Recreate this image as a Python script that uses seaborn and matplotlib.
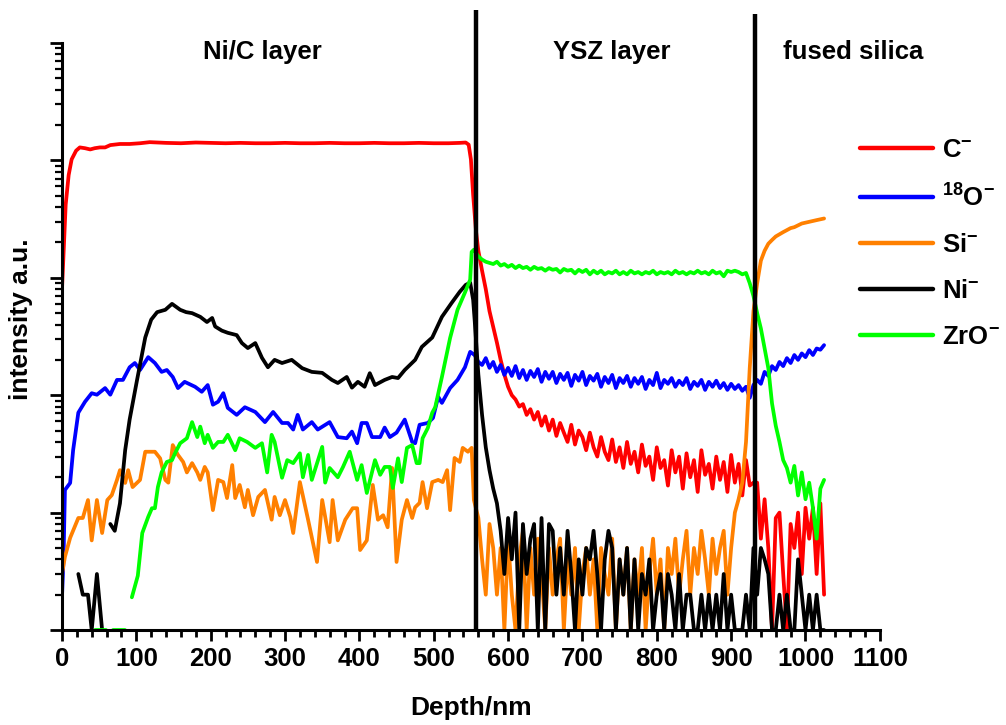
import numpy as np
import pandas as pd
import matplotlib
matplotlib.use("Agg")
import matplotlib.pyplot as plt
import matplotlib.transforms as mtransforms
import seaborn as sns
from matplotlib.ticker import MultipleLocator, LogLocator, NullFormatter

# ---------------- data ----------------
species = ["C$^{-}$", "$^{18}$O$^{-}$", "Si$^{-}$", "Ni$^{-}$", "ZrO$^{-}$"]
colors = ["#FF0000", "#0000FF", "#FF8000", "#000000", "#00FF00"]

# common sampling grid of the YSZ layer and fused silica part (nm)
depth_grid = np.arange(560, 1030, 5)

# --- C- ---
red_depth_nic = [0, 3, 5, 9, 13, 19, 24, 31, 38, 44, 51, 58, 65, 78, 91, 105, 118, 140, 160, 180,
                 200, 220, 240, 260, 280, 300, 320, 340, 360, 380, 400, 420, 440, 460, 480, 500, 520,
                 535, 543, 547, 550, 553, 557]
red_nic = [790, 2100, 4200, 7500, 10200, 12100, 12900, 12700, 12400, 12700,
           12900, 12900, 13500, 13800, 13800, 14000, 14300, 14100, 14000, 14200,
           14100, 14000, 14100, 14000, 14000, 14100, 14000, 14000, 14100, 14000,
           14000, 14100, 14000, 14000, 14100, 14000, 14000, 14100, 14200, 13600,
           10200, 5100, 2450]
red_grid = [1700, 1150, 800, 520, 380, 280, 200, 150, 118, 100,
            92, 80, 84, 68, 76, 62, 72, 55, 66, 50,
            62, 45, 58, 48, 40, 56, 38, 50, 44, 34,
            48, 36, 30, 44, 33, 28, 42, 27, 36, 24,
            40, 26, 33, 22, 38, 25, 30, 19, 36, 24,
            28, 17, 34, 22, 30, 16, 32, 20, 28, 15,
            34, 21, 26, 16, 30, 19, 27, 15, 31, 18,
            26, 14, 28, 17, 18, 18, 6, 13, 5, 1,
            9, 10, 3, 1, 8, 5, 10, 3, 11, 6,
            11, 3, 12, 2]

# --- 18O- ---
blue_depth_nic = [0, 2, 4, 11, 15, 22, 31, 40, 47, 58, 65, 74, 82, 91, 98, 105, 116, 125, 134, 141,
                  149, 156, 165, 179, 188, 196, 203, 210, 217, 223, 235, 246, 260, 273, 284, 296, 304,
                  311, 317, 324, 336, 344, 360, 371, 383, 390, 397, 403, 410, 417, 428, 434, 441, 450,
                  461, 471, 475, 481, 492, 499, 506, 511, 522, 532, 542, 549, 555]
blue_nic = [1.9, 3.9, 15.6, 17.9, 34, 71, 88, 104, 101, 115,
            101, 135, 135, 173, 188, 164, 211, 188, 158, 164,
            143, 115, 130, 118, 107, 122, 83, 88, 104, 78,
            68, 79, 72, 59, 72, 58, 58, 51, 68, 51,
            59, 51, 59, 44, 43, 49, 39, 58, 58, 44,
            44, 53, 44, 48, 62, 40, 39, 56, 58, 64,
            97, 86, 115, 135, 173, 234, 220]
blue_grid = [192, 181, 207, 171, 192, 158, 181, 149, 171, 146,
             177, 140, 164, 135, 161, 143, 167, 130, 158, 138,
             158, 127, 152, 135, 155, 120, 149, 133, 158, 122,
             146, 133, 152, 118, 143, 127, 149, 115, 140, 127,
             146, 118, 140, 125, 143, 113, 135, 122, 155, 115,
             135, 125, 140, 118, 133, 122, 140, 113, 130, 120,
             135, 111, 130, 118, 133, 115, 127, 111, 125, 113,
             122, 109, 118, 95, 122, 135, 125, 158, 146, 177,
             164, 192, 177, 207, 188, 220, 200, 227, 211, 242,
             220, 250, 244, 267]

# --- Si- ---
orange_depth_nic = [0, 4, 11, 22, 28, 35, 40, 47, 54, 61, 67, 74, 78, 85, 89, 95, 105, 112, 125, 132,
                    139, 143, 149, 156, 163, 168, 175, 182, 186, 192, 196, 203, 210, 217, 222, 229,
                    233, 239, 246, 250, 257, 264, 273, 282, 286, 293, 300, 307, 311, 320, 331, 343,
                    350, 360, 364, 371, 381, 391, 397, 401, 410, 418, 425, 432, 438, 444, 450, 457,
                    464, 471, 475, 481, 485, 491, 498, 506, 512, 518, 522, 528, 535, 539, 546, 551, 554]
orange_nic = [3, 4.2, 6.1, 9, 9, 12.8, 5.8, 12.8, 6.7, 12.8,
              14.1, 19, 23, 17.9, 23, 16.5, 19, 33, 33, 29,
              19, 18, 37.6, 31, 27, 22, 26.4, 22, 19, 24.5,
              22, 10.5, 19, 18.2, 13.3, 25.4, 13.3, 17.2, 11.1, 15.6,
              9.5, 13.6, 15.6, 8.7, 13.6, 9.5, 12.8, 9.2, 6.7, 18.2,
              8.7, 3.8, 12.8, 5.6, 12.8, 5.8, 8.7, 10.9, 10.9, 4.8,
              5.8, 17.2, 8.7, 9.5, 7.5, 24, 3.8, 8.7, 12.8, 9,
              11.1, 12.1, 18.2, 10.9, 18.2, 19, 18.2, 23, 10.5, 29.2,
              27, 35.6, 33, 35.6, 12.8]
orange_grid = [9, 4, 2, 8, 5, 2, 5, 1, 6, 2,
               1, 4, 7, 1, 5, 2, 6, 3, 1, 5,
               2, 4, 6, 1, 4, 2, 5, 1, 3, 5,
               2, 4, 1, 5, 3, 2, 6, 1, 4, 2,
               5, 1, 4, 2, 5, 1, 3, 6, 2, 4,
               1, 5, 3, 6, 2, 4, 7, 2, 5, 3,
               7, 4, 2, 6, 3, 5, 7, 2, 5, 10,
               13, 18, 40, 170, 520, 900, 1400, 1700, 1950, 2100,
               2250, 2350, 2450, 2550, 2650, 2700, 2800, 2900, 2950, 3000,
               3050, 3100, 3150, 3200]

# --- Ni- ---
black_depth_a = [22, 28, 35, 40, 47, 54]
black_a = [3, 2, 2, 1, 3, 1]
black_depth_nic = [65, 71, 78, 85, 91, 101, 112, 120, 128, 139, 148, 159, 167, 175, 186, 195, 202,
                   206, 215, 223, 235, 242, 250, 260, 269, 277, 286, 296, 309, 323, 336, 350, 363,
                   371, 383, 390, 398, 407, 414, 421, 434, 444, 452, 461, 475, 484, 498, 511, 524,
                   535, 543, 549, 553, 555]
black_nic = [8, 7, 12, 34, 62, 135, 310, 440, 510, 534,
             600, 534, 510, 500, 465, 420, 455, 385, 355, 340,
             325, 278, 252, 278, 208, 173, 200, 188, 200, 170,
             158, 155, 135, 127, 143, 116, 130, 118, 154, 122,
             135, 143, 140, 164, 200, 258, 310, 465, 610, 760,
             870, 910, 650, 440]
black_grid = [150, 68, 36, 23, 16, 12, 7, 3, 9, 4,
              10, 1, 8, 3, 6, 8, 1, 9, 1, 8,
              7, 2, 5, 2, 7, 3, 1, 4, 2, 5,
              4, 7, 3, 1, 4, 7, 5, 1, 4, 2,
              5, 1, 4, 1, 3, 2, 4, 1, 2, 3,
              1, 3, 2, 1, 3, 1, 2, 2, 1, 1,
              2, 1, 2, 1, 2, 1, 3, 1, 2, 1,
              1, 1, 2, 1, 5, 2, 5, 4, 3, 1,
              1, 2, 1, 2, 1, 1, 4, 2, 1, 2,
              1, 2, 1, 1]

# --- ZrO- ---
green_depth_a = [44, 59]
green_a = [1, 1]
green_depth_b = [69, 85]
green_b = [1, 1]
green_depth_nic = [94, 102, 108, 116, 121, 125, 129, 134, 141, 148, 152, 159, 168, 175, 182, 186,
                   192, 196, 203, 210, 217, 223, 233, 239, 249, 260, 269, 276, 282, 286, 296, 303,
                   311, 320, 324, 331, 336, 350, 354, 360, 371, 378, 387, 397, 403, 410, 421, 428,
                   434, 441, 445, 452, 457, 464, 471, 477, 481, 485, 492, 498, 502, 511, 522, 532,
                   542, 549, 551, 554]
green_nic = [1.9, 2.9, 6.7, 9.2, 10.9, 10.9, 16.5, 22, 27, 28,
             32, 39, 43, 59, 44, 54, 39, 46, 35.6, 40,
             40, 46, 34, 43, 40, 35.6, 39, 22, 46, 40,
             19.8, 28, 26.4, 32, 20, 31, 19, 36.3, 18, 24,
             20, 24.5, 33, 19, 25.4, 14.7, 28, 21, 24.5, 24.5,
             16.2, 29, 18.2, 35.6, 37.6, 26.4, 26.4, 43, 52.5, 71,
             79, 143, 307, 534, 750, 963, 1660, 1735]
green_grid = [1520, 1430, 1370, 1340, 1310, 1370, 1270, 1310, 1240, 1290,
              1210, 1270, 1210, 1240, 1170, 1240, 1190, 1210, 1150, 1210,
              1170, 1190, 1110, 1190, 1150, 1170, 1090, 1170, 1120, 1170,
              1070, 1150, 1090, 1150, 1070, 1120, 1090, 1150, 1070, 1120,
              1070, 1150, 1090, 1120, 1070, 1120, 1090, 1150, 1070, 1120,
              1090, 1120, 1070, 1150, 1090, 1120, 1070, 1120, 1090, 1150,
              1090, 1120, 1070, 1150, 1090, 1120, 1030, 1150, 1120, 1150,
              1120, 1070, 1100, 900, 700, 500, 370, 250, 170, 85,
              55, 40, 28, 24, 18, 25, 14, 22, 13, 18,
              11, 6, 16, 19]

# layer interfaces and region names
interface_depth = [557, 932]
interface_top = [1.9e5, 1.75e5]
region_names = ["Ni/C layer", "YSZ layer", "fused silica"]
region_centers = [269, 740, 1064]

# ---------------- assemble long table ----------------
grid = list(depth_grid)
segments = [
    (species[0], "C", red_depth_nic + grid, red_nic + red_grid),
    (species[1], "O", blue_depth_nic + grid, blue_nic + blue_grid),
    (species[2], "Si", orange_depth_nic + grid, orange_nic + orange_grid),
    (species[3], "Ni-a", black_depth_a, black_a),
    (species[3], "Ni-b", black_depth_nic + grid, black_nic + black_grid),
    (species[4], "Zr-a", green_depth_a, green_a),
    (species[4], "Zr-b", green_depth_b, green_b),
    (species[4], "Zr-c", green_depth_nic + grid, green_nic + green_grid),
]
frames = []
for sp, seg, d, v in segments:
    frames.append(pd.DataFrame({"depth": d, "intensity": v, "species": sp, "segment": seg}))
df = pd.concat(frames, ignore_index=True)

# ---------------- style ----------------
sns.set_style("ticks")
plt.rcParams["font.family"] = ["Liberation Sans", "DejaVu Sans"]
plt.rcParams["font.weight"] = "bold"
plt.rcParams["mathtext.fontset"] = "custom"
plt.rcParams["mathtext.rm"] = "Liberation Sans:bold"
plt.rcParams["mathtext.bf"] = "Liberation Sans:bold"
plt.rcParams["mathtext.it"] = "Liberation Sans:bold"
plt.rcParams["mathtext.default"] = "bf"
for key in ("text.color", "axes.labelcolor", "xtick.color", "ytick.color", "axes.edgecolor"):
    plt.rcParams[key] = "black"

fig = plt.figure(figsize=(10.06, 7.25), dpi=100)
ax = fig.add_axes([0.0616, 0.131, 0.813, 0.8097])
ax.set_yscale("log")

sns.lineplot(data=df, x="depth", y="intensity", hue="species", hue_order=species,
             units="segment", estimator=None, sort=False,
             palette=dict(zip(species, colors)), linewidth=2.7, ax=ax, legend=True)

ax.set_xlim(0, 1100)
ax.set_ylim(1, 1e5)

ax.vlines(interface_depth, 1, interface_top, colors="black", linewidth=3.2,
          clip_on=False, zorder=5)

trans = mtransforms.blended_transform_factory(ax.transData, ax.transAxes)
for name, c in zip(region_names, region_centers):
    ax.text(c, 0.985, name, transform=trans, ha="center", va="center",
            fontsize=18.5, fontweight="bold", color="black")

ax.xaxis.set_major_locator(MultipleLocator(100))
ax.xaxis.set_minor_locator(MultipleLocator(20))
ax.yaxis.set_major_locator(LogLocator(base=10, numticks=20))
ax.yaxis.set_minor_locator(LogLocator(base=10, subs=np.arange(2, 10), numticks=20))
ax.yaxis.set_major_formatter(NullFormatter())
ax.yaxis.set_minor_formatter(NullFormatter())
ax.tick_params(axis="x", which="major", length=8, width=2, direction="out",
               labelsize=18.5, pad=4, colors="black")
ax.tick_params(axis="x", which="minor", length=5, width=2, direction="out", colors="black")
ax.tick_params(axis="y", which="major", length=9, width=2, direction="out", colors="black")
ax.tick_params(axis="y", which="minor", length=5, width=1.6, direction="out", colors="black")
for lab in ax.get_xticklabels():
    lab.set_fontweight("bold")

sns.despine(ax=ax)
for s in ("left", "bottom"):
    ax.spines[s].set_linewidth(2.2)
    ax.spines[s].set_color("black")

ax.set_xlabel("Depth/nm", fontsize=19, fontweight="bold", color="black")
ax.set_ylabel("intensity a.u.", fontsize=19, fontweight="bold", color="black")
ax.xaxis.set_label_coords(0.5, -0.112)
ax.yaxis.set_label_coords(-0.036, 0.53)

sns.move_legend(ax, "upper left", bbox_to_anchor=(0.976, 0.838), frameon=False,
                title=None, fontsize=18.5, handlelength=2.85, handletextpad=0.32,
                labelspacing=0.85, borderpad=0, borderaxespad=0)
leg = ax.get_legend()
for line in leg.get_lines():
    line.set_linewidth(3.2)
for t in leg.get_texts():
    t.set_color("black")

fig.savefig("out.png", dpi=100)
